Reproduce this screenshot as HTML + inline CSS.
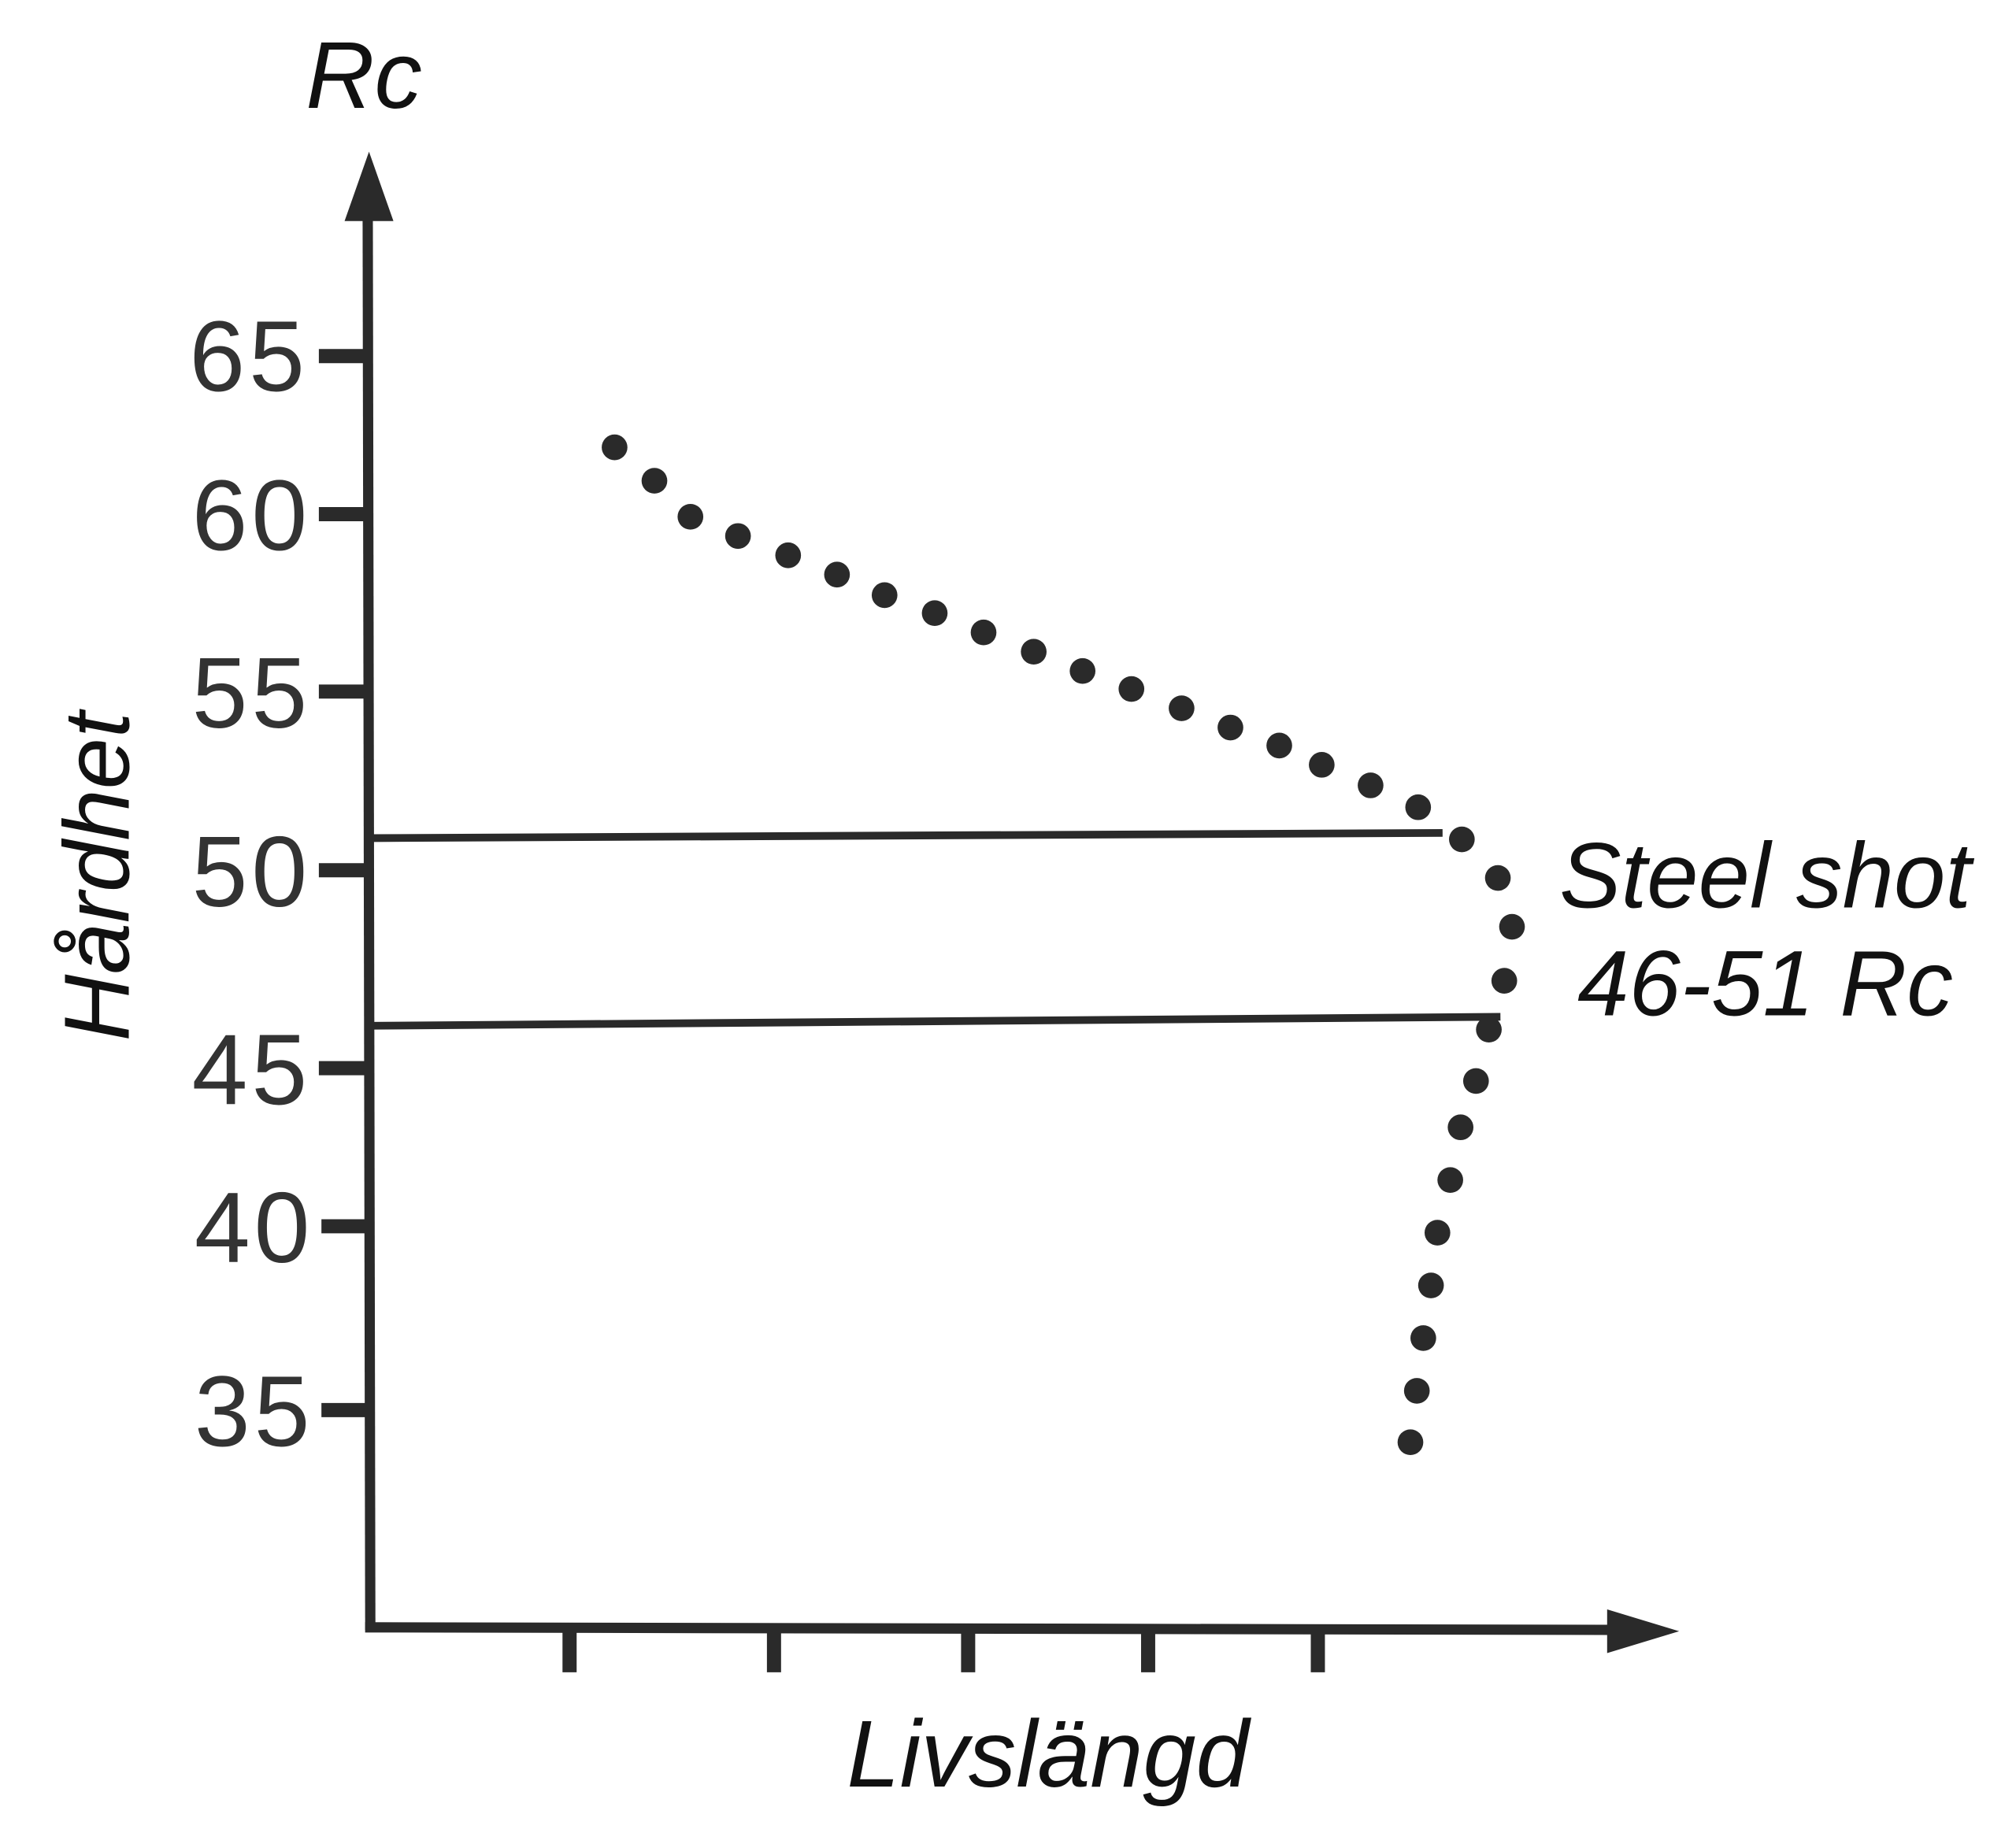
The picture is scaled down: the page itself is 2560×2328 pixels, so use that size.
<!DOCTYPE html>
<html><head><meta charset="utf-8"><style>html,body{margin:0;padding:0;background:#fff}svg{display:block}</style></head>
<body>
<svg width="2560" height="2328" viewBox="0 0 1568 1426" preserveAspectRatio="none" xmlns="http://www.w3.org/2000/svg">
<rect width="1568" height="1426" fill="#fff"/>
<g stroke="#2a2a2a" stroke-width="8" fill="none">
<line x1="286" y1="160" x2="288" y2="1268"/>
<line x1="284" y1="1266" x2="1260" y2="1268"/>
<line x1="248" y1="277" x2="288" y2="277" stroke-width="11"/>
<line x1="248" y1="400" x2="288" y2="400" stroke-width="11"/>
<line x1="248" y1="538" x2="288" y2="538" stroke-width="11"/>
<line x1="248" y1="677" x2="288" y2="677" stroke-width="11"/>
<line x1="248" y1="831" x2="288" y2="831" stroke-width="11"/>
<line x1="250" y1="954" x2="288" y2="954" stroke-width="11"/>
<line x1="250" y1="1097" x2="288" y2="1097" stroke-width="11"/>
<line x1="443" y1="1266" x2="443" y2="1301" stroke-width="11"/>
<line x1="602" y1="1266" x2="602" y2="1301" stroke-width="11"/>
<line x1="753" y1="1266" x2="753" y2="1301" stroke-width="11"/>
<line x1="893" y1="1266" x2="893" y2="1301" stroke-width="11"/>
<line x1="1025" y1="1266" x2="1025" y2="1301" stroke-width="11"/>
<line x1="290" y1="652" x2="1122" y2="648" stroke-width="6"/>
<line x1="290" y1="798" x2="1167" y2="791" stroke-width="6"/>
</g>
<polygon points="287,118 268,172 306,172" fill="#2a2a2a"/>
<polygon points="1306,1269 1250,1252 1250,1286" fill="#2a2a2a"/>
<g fill="#2a2a2a">
<circle cx="478" cy="348" r="10"/><circle cx="509" cy="374" r="10"/><circle cx="537" cy="402" r="10"/><circle cx="574" cy="417" r="10"/><circle cx="613" cy="432" r="10"/><circle cx="651" cy="447" r="10"/><circle cx="688" cy="463" r="10"/><circle cx="727" cy="477" r="10"/><circle cx="765" cy="492" r="10"/><circle cx="804" cy="507" r="10"/><circle cx="842" cy="522" r="10"/><circle cx="880" cy="536" r="10"/><circle cx="919" cy="551" r="10"/><circle cx="957" cy="566" r="10"/><circle cx="995" cy="580" r="10"/><circle cx="1028" cy="595" r="10"/><circle cx="1066" cy="611" r="10"/><circle cx="1103" cy="628" r="10"/><circle cx="1137" cy="653" r="10"/><circle cx="1165" cy="683" r="10"/><circle cx="1176" cy="721" r="10"/><circle cx="1170" cy="763" r="10"/><circle cx="1158" cy="801" r="10"/><circle cx="1148" cy="841" r="10"/><circle cx="1136" cy="877" r="10"/><circle cx="1128" cy="918" r="10"/><circle cx="1118" cy="959" r="10"/><circle cx="1113" cy="1000" r="10"/><circle cx="1107" cy="1041" r="10"/><circle cx="1102" cy="1082" r="10"/><circle cx="1097" cy="1122" r="10"/>
</g>
<g font-family="Liberation Sans, sans-serif" fill="#333" font-size="78" text-anchor="end" letter-spacing="3">
<text x="240" y="304">65</text>
<text x="242" y="428">60</text>
<text x="242" y="566">55</text>
<text x="242" y="705">50</text>
<text x="242" y="859">45</text>
<text x="244" y="982">40</text>
<text x="244" y="1125">35</text>
</g>
<g font-family="Liberation Sans, sans-serif" font-style="italic" fill="#111" text-anchor="middle" font-size="72">
<text x="283" y="84" font-size="74">Rc</text>
<text x="815" y="1390" font-size="74">Livslängd</text>
<text x="1373" y="706">Steel shot</text>
<text x="1373" y="790">46-51 Rc</text>
<text transform="translate(100,682) rotate(-90)">Hårdhet</text>
</g>
</svg>
</body></html>
